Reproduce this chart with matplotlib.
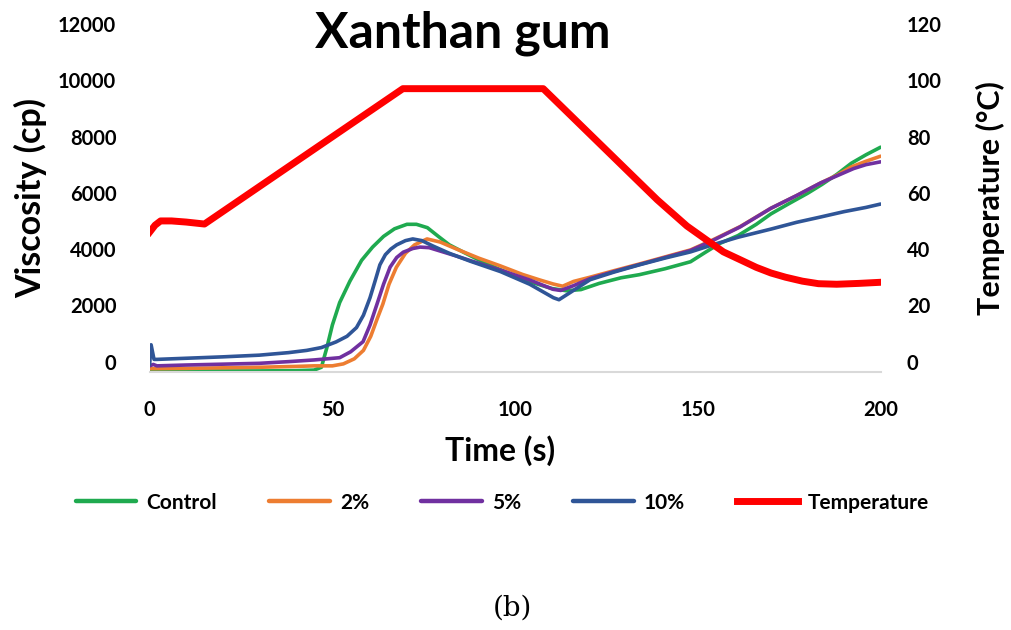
import matplotlib
matplotlib.use("Agg")
import matplotlib.pyplot as plt

plt.rcParams.update({
    "font.family": ["Lato", "DejaVu Sans"],
    "font.weight": "bold",
})

# --- data ---
t_ctrl = [0, 2, 10, 20, 30, 40, 45, 47, 48.5, 50, 52, 54.8, 58, 61, 64, 67, 70.4, 73, 76, 79,
          82, 86, 90, 95, 100, 105, 110, 114, 118, 123, 129, 134, 141, 148, 152, 156, 161, 166,
          170, 175, 180, 184, 188, 192, 196, 200]
v_ctrl = [-300, -320, -330, -330, -330, -320, -300, -200, 500, 1300, 2100, 2860, 3600, 4070,
          4450, 4720, 4880, 4880, 4760, 4450, 4150, 3880, 3620, 3320, 3050, 2800, 2600, 2520,
          2560, 2780, 2980, 3090, 3300, 3550, 3880, 4200, 4480, 4880, 5250, 5620, 5980, 6300,
          6650, 7050, 7350, 7620]

t_2 = [0, 2, 10, 20, 30, 40, 45, 50, 53, 56, 58.5, 60.5, 62.2, 63.8, 65.5, 67.5, 70, 72.5,
       75.9, 79.5, 84, 90, 96, 102, 106.8, 110.4, 113, 116, 120.5, 127, 134, 141, 148, 154,
       161.6, 170, 177, 183.6, 188, 192, 196, 200]
v_2 = [-250, -250, -240, -220, -200, -170, -150, -150, -80, 100, 400, 900, 1500, 2040, 2750,
       3350, 3850, 4150, 4360, 4250, 4000, 3680, 3400, 3100, 2900, 2760, 2680, 2850, 3000,
       3230, 3470, 3720, 3970, 4320, 4800, 5450, 5900, 6350, 6620, 6920, 7120, 7300]

t_5 = [0, 1, 2, 10, 20, 30, 38, 45, 52, 55, 58.4, 60.3, 62.2, 64, 65.8, 67.6, 69.4, 72, 74,
       76.5, 79.5, 84, 88, 96, 104, 110.4, 112.5, 116, 120.5, 127, 134, 141, 148, 154, 161.6,
       170, 177, 183.6, 188, 192.6, 196, 200]
v_5 = [-150, -100, -150, -120, -90, -60, 0, 60, 140, 350, 710, 1300, 2040, 2750, 3360, 3700,
       3890, 4020, 4070, 4050, 3930, 3750, 3580, 3250, 2900, 2570, 2530, 2700, 2950, 3200,
       3450, 3700, 3950, 4300, 4790, 5450, 5900, 6350, 6600, 6860, 7000, 7100]

t_10 = [0, 0.4, 1.2, 2, 10, 20, 30, 38, 43, 47, 51, 54, 56.6, 58.5, 60.3, 61.7, 63, 64.5, 66,
        67.6, 70, 72, 74.5, 77.5, 82, 87.7, 96, 104, 110.5, 112, 115, 120.5, 127, 134, 141,
        148, 154, 161, 170, 177, 183.6, 190, 196, 200]
v_10 = [-100, 600, 80, 80, 120, 170, 230, 320, 400, 500, 700, 900, 1210, 1650, 2270, 2870,
        3440, 3800, 4000, 4150, 4300, 4360, 4300, 4110, 3850, 3570, 3200, 2750, 2270, 2200,
        2450, 2910, 3180, 3440, 3680, 3900, 4150, 4420, 4710, 4950, 5140, 5330, 5480, 5600]

t_temp = [0, 1.5, 3, 6, 10, 15, 69.3, 107.7, 138.9, 147, 153.4, 157, 161.6, 166, 170, 174,
          178.6, 183, 188, 194, 200]
temp = [46, 48.5, 50, 50, 49.6, 48.9, 97, 97, 57.5, 48.2, 42.3, 39, 36.2, 33.5, 31.5, 30,
        28.6, 27.7, 27.5, 27.8, 28.2]

visc_ticks = [0, 2000, 4000, 6000, 8000, 10000, 12000]
temp_ticks = [0, 20, 40, 60, 80, 100, 120]
x_ticks = [0, 50, 100, 150, 200]

C_CTRL = "#1faa4f"
C_2 = "#ed7d31"
C_5 = "#7030a0"
C_10 = "#2f5597"
C_TEMP = "#ff0000"

fig = plt.figure(figsize=(10.11, 6.30), dpi=100)
ax = fig.add_axes([0.148, 0.409, 0.723, 0.553])
ax2 = ax.twinx()

ax.plot(t_ctrl, v_ctrl, color=C_CTRL, lw=2.6, label="Control", solid_capstyle="round")
ax.plot(t_2, v_2, color=C_2, lw=2.6, label="2%", solid_capstyle="round")
ax.plot(t_5, v_5, color=C_5, lw=2.6, label="5%", solid_capstyle="round")
ax.plot(t_10, v_10, color=C_10, lw=2.6, label="10%", solid_capstyle="round")
ax2.plot(t_temp, temp, color=C_TEMP, lw=5.0, label="Temperature", solid_joinstyle="round")

ax.set_xlim(0, 200)
ax.set_ylim(-380, 12000)
ax2.set_ylim(-3.8, 120)
ax.set_xticks(x_ticks)
ax.set_yticks(visc_ticks)
ax2.set_yticks(temp_ticks)

for a in (ax, ax2):
    for s in ("top", "left", "right", "bottom"):
        a.spines[s].set_visible(False)
ax.spines["bottom"].set_visible(True)
ax.spines["bottom"].set_color("#d9d9d9")
ax.spines["bottom"].set_linewidth(1.5)

ax.tick_params(axis="x", length=0, pad=20, labelsize=14.5)
ax.tick_params(axis="y", length=0, pad=24, labelsize=14.5)
ax2.tick_params(axis="y", length=0, pad=19, labelsize=14.5)

ax.set_xlabel("Time (s)", fontsize=23, fontweight="bold")
ax.xaxis.set_label_coords(0.48, -0.18)
ax.set_ylabel("Viscosity (cp)", fontsize=24.5, fontweight="bold")
ax.yaxis.set_label_coords(-0.14, 0.5)
ax2.set_ylabel("Temperature (°C)", fontsize=22, fontweight="bold")
ax2.yaxis.set_label_coords(1.13, 0.5)

fig.text(0.458, 0.947, "Xanthan gum", fontsize=36, fontweight="bold", ha="center", va="center")

h1, l1 = ax.get_legend_handles_labels()
h2, l2 = ax2.get_legend_handles_labels()
leg = fig.legend(h1 + h2, l1 + l2, loc="center", bbox_to_anchor=(0.497, 0.202), ncol=5,
                 frameon=False, fontsize=15, handlelength=2.9, columnspacing=2.5,
                 handletextpad=0.5)
for line in leg.get_lines():
    line.set_linewidth(3.2 if line.get_label() != "Temperature" else 5.0)

fig.text(0.507, 0.035, "(b)", fontsize=20, fontweight="normal", ha="center", va="center",
         family=["DejaVu Serif"])

fig.savefig("out.png", dpi=100)
